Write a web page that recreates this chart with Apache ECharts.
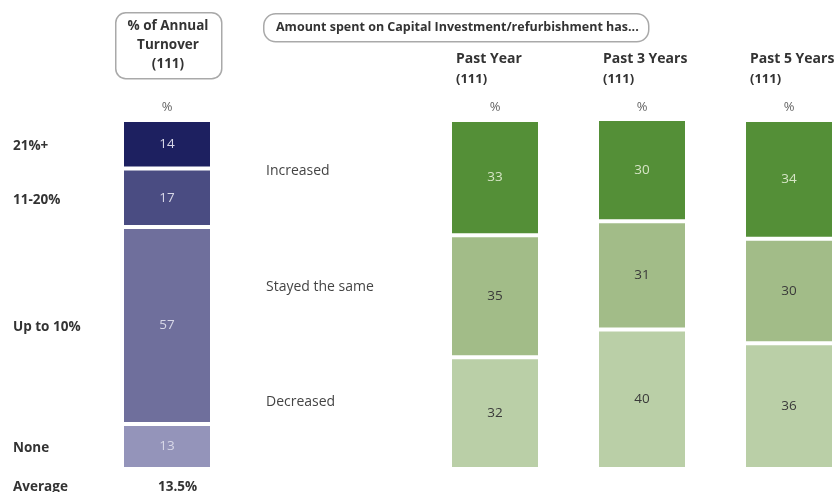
<!DOCTYPE html>
<html>
<head>
<meta charset="utf-8">
<script src="https://cdn.jsdelivr.net/npm/echarts@6/dist/echarts.min.js"></script>
<style>
  html, body { margin: 0; padding: 0; background: #fff; }
  #chart { width: 834px; height: 492px; }
</style>
</head>
<body>
<div id="chart"></div>
<script>
// Share of annual turnover spent on capital investment (top band first)
const turnoverBands = ['21%+', '11-20%', 'Up to 10%', 'None'];
const turnoverShare = [14, 17, 57, 13];
const turnoverColors = ['#1d2060', '#4a4c82', '#6f6f9c', '#9494ba'];
const turnoverBase = '(111)';
const averageLabel = 'Average';
const averageValue = '13.5%';

// Change in capital investment / refurbishment spend by period
const periods = ['Past Year', 'Past 3 Years', 'Past 5 Years'];
const periodBase = ['(111)', '(111)', '(111)'];
const changeCategories = ['Increased', 'Stayed the same', 'Decreased'];
const increased = [33, 30, 34];
const stayedSame = [35, 31, 30];
const decreased = [32, 40, 36];
const changeColors = ['#548f37', '#a2bc88', '#bacfa7'];

const FONT = '"Open Sans"';
const DARK = '#333333';

const chart = echarts.init(document.getElementById('chart'), null, { renderer: 'canvas' });

const segBorder = { borderColor: '#ffffff', borderWidth: 2 };

// Turnover bar: stacked bottom-up, so iterate from the last band
const turnoverSeries = [];
for (let i = turnoverBands.length - 1; i >= 0; i--) {
  turnoverSeries.push({
    name: turnoverBands[i],
    type: 'bar',
    xAxisIndex: 0, yAxisIndex: 0,
    stack: 'turnover',
    barWidth: 90,
    barGap: '-100%',
    data: [turnoverShare[i]],
    itemStyle: Object.assign({ color: turnoverColors[i] }, segBorder),
    label: {
      show: true, position: 'inside',
      color: '#d8d8e8', fontFamily: FONT, fontSize: 13.5
    }
  });
}
// Band names sitting to the left of each turnover segment
for (let i = turnoverBands.length - 1; i >= 0; i--) {
  turnoverSeries.push({
    name: turnoverBands[i] + ' label',
    type: 'bar',
    xAxisIndex: 0, yAxisIndex: 0,
    stack: 'bandNames',
    barWidth: 90,
    barGap: '-100%',
    silent: true,
    data: [turnoverShare[i]],
    itemStyle: { color: 'rgba(0,0,0,0)' },
    label: {
      show: true, position: 'insideLeft', offset: [-114, 2],
      formatter: turnoverBands[i],
      color: DARK, fontFamily: FONT, fontSize: 13.5, fontWeight: 'bold'
    }
  });
}

const changeValues = [increased, stayedSame, decreased];
const changeSeries = [];
for (let i = changeCategories.length - 1; i >= 0; i--) {
  changeSeries.push({
    name: changeCategories[i],
    type: 'bar',
    xAxisIndex: 1, yAxisIndex: 1,
    stack: 'change',
    barWidth: 90,
    data: changeValues[i],
    itemStyle: Object.assign({ color: changeColors[i] }, segBorder),
    label: {
      show: true, position: 'inside',
      color: i === 0 ? '#d6e5c6' : '#3a3a3a',
      fontFamily: FONT, fontSize: 13.5
    }
  });
}

const pctStyle = { fontFamily: FONT, fontSize: 13, color: '#666', width: 78, align: 'center', lineHeight: 36 };

const option = {
  backgroundColor: '#ffffff',
  animation: false,
  grid: [
    { left: 122, width: 90, top: 120, bottom: 23, outerBoundsMode: 'none' },
    // period bars sit on the tick positions (boundaryGap off)
    { left: 495, right: 45, top: 120, bottom: 23, outerBoundsMode: 'none' }
  ],
  xAxis: [
    {
      gridIndex: 0, type: 'category', position: 'top', data: ['%'],
      axisLine: { show: false }, axisTick: { show: false },
      axisLabel: { margin: -5, formatter: v => '{p|' + v + '}', rich: { p: pctStyle } }
    },
    {
      gridIndex: 1, type: 'category', position: 'top', data: periods,
      boundaryGap: false,
      axisLine: { show: false }, axisTick: { show: false },
      axisLabel: {
        margin: -5, interval: 0,
        formatter: (v, idx) => '{h|' + v + '}\n{n|' + periodBase[idx] + '}\n{p|%}',
        rich: {
          h: { fontFamily: FONT, fontSize: 14, fontWeight: 'bold', color: DARK, width: 78, align: 'left', lineHeight: 21 },
          n: { fontFamily: FONT, fontSize: 13, fontWeight: 'bold', color: DARK, width: 78, align: 'left', lineHeight: 19 },
          p: pctStyle
        }
      }
    }
  ],
  yAxis: [
    { gridIndex: 0, type: 'value', min: 0, max: 101, show: false },
    { gridIndex: 1, type: 'value', min: 0, max: 100, show: false }
  ],
  series: turnoverSeries.concat(changeSeries),
  graphic: [
    {
      type: 'rect', left: 115, top: 12,
      shape: { width: 106, height: 66, r: 10 },
      style: { fill: '#fff', stroke: '#a9a9a9', lineWidth: 1.5 }
    },
    {
      type: 'text', x: 168, y: 45,
      style: {
        text: '% of Annual\nTurnover\n' + turnoverBase,
        fontFamily: FONT, fontSize: 13.5, fontWeight: 'bold', fill: DARK,
        align: 'center', verticalAlign: 'middle', lineHeight: 19
      }
    },
    {
      type: 'rect', left: 263, top: 13,
      shape: { width: 385, height: 28, r: 12 },
      style: { fill: '#fff', stroke: '#a9a9a9', lineWidth: 1.5 }
    },
    {
      type: 'text', x: 276, y: 27,
      style: {
        text: 'Amount spent on Capital Investment/refurbishment has...',
        fontFamily: FONT, fontSize: 12.5, fontWeight: 'bold', fill: DARK,
        align: 'left', verticalAlign: 'middle'
      }
    },
    {
      type: 'text', x: 13, y: 487,
      style: { text: averageLabel, fontFamily: FONT, fontSize: 13.5, fontWeight: 'bold', fill: DARK, verticalAlign: 'middle' }
    },
    {
      type: 'text', x: 158, y: 487,
      style: { text: averageValue, fontFamily: FONT, fontSize: 13.5, fontWeight: 'bold', fill: DARK, verticalAlign: 'middle' }
    }
  ].concat(changeCategories.map((name, i) => ({
    type: 'text', x: 266, y: [171, 287, 402][i],
    style: { text: name, fontFamily: FONT, fontSize: 14, fill: '#444', verticalAlign: 'middle' }
  })))
};

chart.setOption(option);
</script>
</body>
</html>
